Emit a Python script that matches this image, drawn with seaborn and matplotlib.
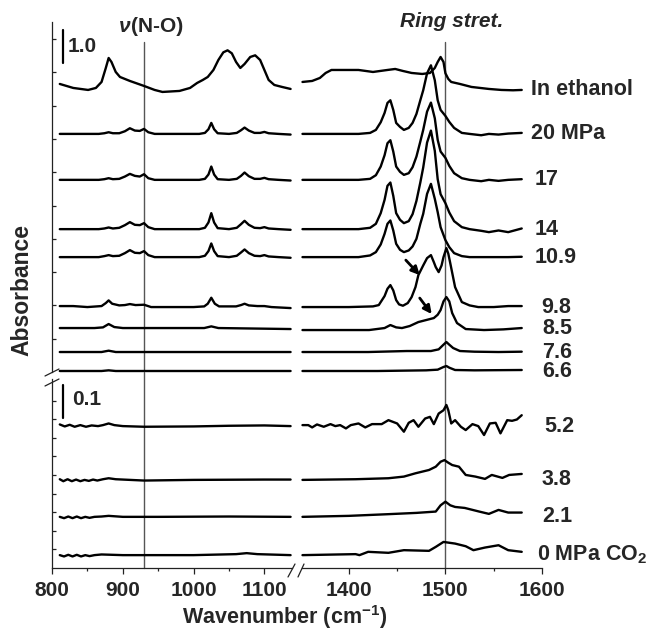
import numpy as np
import pandas as pd
import matplotlib
matplotlib.use("Agg")
import matplotlib.pyplot as plt
from matplotlib.lines import Line2D
import seaborn as sns

# ---------------- data ----------------
names_upper = ["In ethanol", "20 MPa", "17", "14", "10.9", "9.8", "8.5", "7.6", "6.6"]
names_lower = ["5.2", "3.8", "2.1", "0 MPa CO$_\\mathbf{2}$"]

# baselines of the stacked traces (absorbance units of each panel)
offsets_upper = [8.47, 7.15, 5.77, 4.29, 3.45, 1.95, 1.32, 0.60, 0.03]
offsets_lower = [0.430, 0.267, 0.155, 0.039]

# --- In ethanol
eth_l_wn = [811, 830, 851, 862, 870, 876, 880, 884, 890, 896, 910, 930, 945, 956, 980, 995, 1005, 1013,
            1020, 1028, 1035, 1042, 1048, 1054, 1060, 1066, 1072, 1080, 1087, 1094, 1100, 1106, 1114, 1125, 1137]
eth_l_a = [0.18, 0.06, 0, 0.06, 0.24, 0.66, 0.96, 0.84, 0.54, 0.39, 0.27, 0.12, 0, -0.06, -0.03, 0.06, 0.21, 0.30,
           0.39, 0.60, 0.90, 1.13, 1.19, 1.10, 0.84, 0.66, 0.78, 0.99, 1.04, 0.90, 0.60, 0.30, 0.15, 0.09, 0.03]
eth_r_wn = [1352, 1362, 1370, 1376, 1382, 1395, 1410, 1425, 1440, 1448, 1456, 1465, 1476, 1484, 1489, 1492,
            1495, 1498, 1500, 1503, 1506, 1515, 1527, 1545, 1558, 1570, 1579]
eth_r_a = [0.24, 0.27, 0.36, 0.51, 0.6, 0.6, 0.6, 0.54, 0.6, 0.63, 0.57, 0.51, 0.48, 0.51, 0.66, 0.84,
           0.99, 0.84, 0.5, 0.33, 0.24, 0.18, 0.09, 0.03, 0.0, -0.01, 0.0]

# --- supercritical traces 20, 17, 14, 10.9 MPa (shared wavenumber grids)
wn_l4 = [811, 840, 866, 874, 880, 886, 895, 903, 910, 917, 924, 930, 936, 945, 980, 1008, 1016, 1021, 1025,
         1029, 1034, 1050, 1061, 1067, 1072, 1078, 1086, 1094, 1100, 1106, 1120, 1137]
a20_l = [0, 0, 0, 0.02, 0.05, 0.02, 0.02, 0.08, 0.17, 0.1, 0.09, 0.15, 0.05, 0, 0, 0, 0.03, 0.14, 0.33,
         0.14, 0.02, 0, 0.03, 0.11, 0.19, 0.1, 0.03, 0.03, 0.06, 0.02, 0, -0.02]
a17_l = [0, 0, 0, 0.02, 0.05, 0.02, 0.03, 0.1, 0.18, 0.12, 0.1, 0.17, 0.05, 0, 0, 0, 0.03, 0.16, 0.4,
         0.16, 0.02, 0, 0.03, 0.12, 0.22, 0.11, 0.03, 0.03, 0.06, 0.02, 0, -0.02]
a14_l = [0, 0, 0, 0.02, 0.05, 0.02, 0.04, 0.12, 0.21, 0.13, 0.12, 0.18, 0.06, 0, 0, 0, 0.04, 0.2, 0.48,
         0.2, 0.03, 0, 0.04, 0.15, 0.25, 0.13, 0.04, 0.03, 0.06, 0.02, 0, -0.02]
a109_l = [0, 0, 0, 0.03, 0.06, 0.03, 0.04, 0.12, 0.21, 0.13, 0.12, 0.18, 0.06, 0, 0, 0, 0.04, 0.18, 0.41,
          0.18, 0.03, 0, 0.04, 0.14, 0.23, 0.12, 0.04, 0.03, 0.06, 0.02, 0, -0.02]

wn_r4 = [1352, 1380, 1410, 1422, 1428, 1433, 1437, 1440, 1443, 1446, 1449, 1453, 1457, 1462, 1466, 1470, 1474,
         1477, 1481, 1485, 1489, 1492, 1495, 1500, 1504, 1509, 1517, 1525, 1537, 1545, 1555, 1565, 1579]
a20_r = [0, 0, 0, 0.03, 0.12, 0.35, 0.63, 0.93, 1.01, 0.72, 0.33, 0.21, 0.12, 0.18, 0.33, 0.6, 1.01,
         1.31, 1.82, 2.06, 1.61, 1.01, 0.72, 0.54, 0.36, 0.18, 0.03, 0, -0.04, 0, -0.02, 0.01, 0.03]
a17_r = [0, 0, 0, 0.03, 0.14, 0.4, 0.74, 1.1, 1.19, 0.85, 0.4, 0.24, 0.15, 0.2, 0.38, 0.7, 1.15,
         1.5, 2.05, 2.32, 1.85, 1.2, 0.85, 0.66, 0.42, 0.2, 0.05, 0, -0.04, 0, -0.03, 0.0, 0.02]
a14_r = [0, 0, 0, 0.04, 0.16, 0.48, 0.88, 1.3, 1.4, 1.0, 0.48, 0.28, 0.18, 0.24, 0.45, 0.85, 1.4,
         1.85, 2.6, 2.96, 2.35, 1.5, 1.05, 0.78, 0.5, 0.24, 0.06, 0, -0.05, -0.09, -0.04, -0.09, 0.02]
a109_r = [0, 0, 0, 0.05, 0.15, 0.38, 0.7, 1.0, 1.1, 0.8, 0.4, 0.22, 0.15, 0.2, 0.32, 0.55, 1.0,
          1.3, 1.9, 2.2, 1.75, 1.35, 0.9, 0.51, 0.3, 0.12, 0.03, 0, 0, 0, 0, 0, 0.01]

# --- 9.8 MPa
w98_l = [811, 830, 850, 870, 876, 880, 885, 895, 903, 910, 918, 930, 940, 1000, 1015, 1020, 1025, 1030,
         1036, 1060, 1067, 1072, 1078, 1090, 1100, 1110, 1137]
a98_l = [0.03, 0.03, 0.0, 0.03, 0.12, 0.2, 0.1, 0.05, 0.06, 0.09, 0.06, 0.07, 0.0, 0.0, 0.02, 0.1, 0.28, 0.1,
         0.02, 0.02, 0.06, 0.1, 0.05, 0.03, 0.03, 0.0, -0.03]
w98_r = [1352, 1400, 1425, 1431, 1437, 1440, 1443, 1446, 1449, 1452, 1456, 1461, 1465, 1469, 1472, 1477,
         1481, 1485, 1488, 1490, 1493, 1496, 1498, 1501, 1503, 1505, 1510, 1517, 1525, 1534, 1550, 1565, 1579]
a98_r = [0, 0, 0.02, 0.06, 0.33, 0.55, 0.66, 0.5, 0.21, 0.08, 0.04, 0.12, 0.3, 0.6, 0.96, 1.25,
         1.47, 1.56, 1.35, 1.2, 1.05, 1.25, 1.5, 1.77, 1.6, 1.32, 0.6, 0.15, 0.05, 0, 0, 0.03, 0.03]

# --- 8.5, 7.6, 6.6 MPa
w85_l = [811, 860, 872, 880, 888, 900, 1015, 1025, 1035, 1137]
a85_l = [0, 0, 0.02, 0.12, 0.03, 0, 0, 0.05, 0, -0.03]
w85_r = [1352, 1421, 1437, 1443, 1449, 1455, 1463, 1472, 1480, 1488, 1492, 1495, 1498, 1501, 1504, 1507,
         1512, 1521, 1540, 1560, 1579]
a85_r = [-0.06, -0.06, 0.0, 0.09, 0.02, 0.0, 0.06, 0.18, 0.24, 0.3, 0.4, 0.54, 0.8, 0.93, 0.8, 0.45,
         0.15, -0.03, -0.06, -0.04, 0.0]
w76_l = [811, 870, 880, 890, 1137]
a76_l = [0, 0, 0.04, 0, 0]
w76_r = [1352, 1420, 1460, 1485, 1493, 1498, 1501, 1504, 1508, 1515, 1530, 1555, 1579]
a76_r = [0, 0, 0.03, 0.03, 0.08, 0.22, 0.3, 0.22, 0.12, 0.03, 0.01, 0, 0.01]
w66_l = [811, 870, 880, 890, 1137]
a66_l = [0, 0, 0.02, 0, 0]
w66_r = [1352, 1430, 1480, 1492, 1498, 1501, 1504, 1510, 1530, 1579]
a66_r = [0, 0, 0.02, 0.04, 0.12, 0.15, 0.1, 0.03, 0.02, 0.03]

# --- lower panel: 5.2, 3.8, 2.1, 0 MPa
w52_l = [811, 818, 825, 832, 840, 848, 856, 865, 872, 880, 888, 900, 930, 1000, 1050, 1100, 1137]
a52_l = [0.005, -0.001, 0.004, -0.002, 0.003, -0.002, 0.002, 0.0, 0.003, 0.008, 0.003, 0.0, -0.002, -0.001,
         0.001, 0.002, 0.0]
w52_r = [1352, 1358, 1362, 1367, 1374, 1381, 1386, 1391, 1397, 1402, 1410, 1417, 1424, 1434, 1441, 1450,
         1457, 1462, 1467, 1472, 1479, 1484, 1488, 1493, 1498, 1501, 1503, 1506, 1510, 1516, 1521, 1528,
         1534, 1540, 1546, 1552, 1557, 1564, 1569, 1574, 1579]
a52_r = [0.003, 0.003, -0.004, 0.005, -0.002, 0.006, 0.0, 0.003, -0.007, 0.003, 0.008, -0.004, 0.006, 0.006,
         0.018, 0.008, -0.017, 0.01, 0.018, -0.002, 0.023, 0.028, 0.006, 0.038, 0.048, 0.064, 0.048, 0.008,
         0.018, -0.002, -0.012, 0.006, 0.0, -0.027, 0.008, 0.01, -0.022, 0.018, 0.016, 0.02, 0.033]
w38_l = [811, 816, 822, 828, 834, 840, 846, 852, 858, 864, 872, 880, 890, 930, 1000, 1100, 1137]
a38_l = [0.002, -0.004, 0.002, -0.004, 0.001, -0.004, 0.0, -0.003, 0.001, -0.002, 0.002, 0.005, 0.002,
         -0.002, 0.0, 0.001, 0.001]
w38_r = [1352, 1407, 1441, 1457, 1469, 1483, 1490, 1495, 1499, 1503, 1507, 1514, 1521, 1531, 1541, 1548,
         1559, 1566, 1579]
a38_r = [0, 0.002, 0.005, 0.01, 0.02, 0.03, 0.04, 0.055, 0.06, 0.052, 0.045, 0.04, 0.015, 0.01, 0.003,
         0.015, 0.006, 0.015, 0.018]
w21_l = [811, 817, 823, 829, 835, 841, 847, 853, 860, 870, 880, 900, 950, 1050, 1137]
a21_l = [0.0, -0.004, 0.001, -0.004, 0.001, -0.004, 0.0, -0.003, 0.0, 0.001, 0.003, 0.0, 0.0, 0.001, 0.0]
w21_r = [1352, 1400, 1440, 1470, 1490, 1495, 1500, 1505, 1510, 1520, 1535, 1545, 1555, 1565, 1579]
a21_r = [0, 0.003, 0.008, 0.012, 0.016, 0.035, 0.046, 0.035, 0.03, 0.027, 0.016, 0.009, 0.021, 0.013, 0.013]
w0_l = [811, 817, 823, 829, 835, 841, 847, 853, 860, 870, 900, 1000, 1060, 1075, 1090, 1137]
a0_l = [0.0, -0.004, 0.001, -0.004, 0.001, -0.004, 0.0, -0.003, 0.0, 0.002, 0.0, 0.0, 0.003, 0.006, 0.003, 0.0]
w0_r = [1352, 1407, 1411, 1420, 1441, 1457, 1483, 1490, 1498, 1510, 1521, 1529, 1541, 1555, 1565, 1579]
a0_r = [0, 0.003, 0.0, 0.01, 0.007, 0.015, 0.013, 0.025, 0.04, 0.035, 0.027, 0.015, 0.023, 0.03, 0.015, 0.01]

# reference lines and x ticks
ref_lines = [930, 1500]
xticks_left = [800, 900, 1000, 1100]
xticks_right = [1400, 1500, 1600]
# annotation arrows (tail, head) in upper-right panel data units
arrows = [((1459, 3.36), (1473.4, 2.91)), ((1473.4, 2.22), (1485.8, 1.74))]

# ---------------- assemble tidy table ----------------
upper_left = [(eth_l_wn, eth_l_a), (wn_l4, a20_l), (wn_l4, a17_l), (wn_l4, a14_l), (wn_l4, a109_l),
              (w98_l, a98_l), (w85_l, a85_l), (w76_l, a76_l), (w66_l, a66_l)]
upper_right = [(eth_r_wn, eth_r_a), (wn_r4, a20_r), (wn_r4, a17_r), (wn_r4, a14_r), (wn_r4, a109_r),
               (w98_r, a98_r), (w85_r, a85_r), (w76_r, a76_r), (w66_r, a66_r)]
lower_left = [(w52_l, a52_l), (w38_l, a38_l), (w21_l, a21_l), (w0_l, a0_l)]
lower_right = [(w52_r, a52_r), (w38_r, a38_r), (w21_r, a21_r), (w0_r, a0_r)]

frames = []
for panel, names, offs, segs in [("upper", names_upper, offsets_upper, {"L": upper_left, "R": upper_right}),
                                 ("lower", names_lower, offsets_lower, {"L": lower_left, "R": lower_right})]:
    for seg, traces in segs.items():
        for name, off, (wn, a) in zip(names, offs, traces):
            frames.append(pd.DataFrame({"wn": wn, "A": np.asarray(a, float) + off,
                                        "trace": name, "panel": panel, "seg": seg}))
df = pd.concat(frames, ignore_index=True)

# ---------------- styling ----------------
sns.set_theme(style="white")
plt.rcParams["font.family"] = ["Liberation Sans", "DejaVu Sans"]
plt.rcParams["font.weight"] = "bold"
plt.rcParams["mathtext.fontset"] = "custom"
plt.rcParams["mathtext.rm"] = "Liberation Sans:bold"
plt.rcParams["mathtext.bf"] = "Liberation Sans:bold"
plt.rcParams["mathtext.it"] = "Liberation Sans:bold:italic"

W, H = 654, 633
fig = plt.figure(figsize=(W / 100, H / 100), dpi=100)
fig.patch.set_facecolor("white")


def fx(x):
    return x / W


def fy(y):
    return 1 - y / H


# pixel layout
xl0, xl1, xr0, xr1 = 52, 292, 302, 542
yu0, yu1, yl0, yl1 = 22, 372, 379, 568
ax_ul = fig.add_axes([fx(xl0), fy(yu1), (xl1 - xl0) / W, (yu1 - yu0) / H])
ax_ur = fig.add_axes([fx(xr0), fy(yu1), (xr1 - xr0) / W, (yu1 - yu0) / H])
ax_ll = fig.add_axes([fx(xl0), fy(yl1), (xl1 - xl0) / W, (yl1 - yl0) / H])
ax_lr = fig.add_axes([fx(xr0), fy(yl1), (xr1 - xr0) / W, (yl1 - yl0) / H])

up_px_per_unit = 33.3
lo_px_per_unit = 330.0
up_top = (yu1 - yu0) / up_px_per_unit
lo_top = (yl1 - yl0) / lo_px_per_unit

axes = {("upper", "L"): ax_ul, ("upper", "R"): ax_ur, ("lower", "L"): ax_ll, ("lower", "R"): ax_lr}
for (panel, seg), ax in axes.items():
    sub = df[(df.panel == panel) & (df.seg == seg)]
    sns.lineplot(data=sub, x="wn", y="A", units="trace", estimator=None, sort=False,
                 color="black", linewidth=1.7, ax=ax, legend=False, zorder=3)
    for ln in ax.lines:
        ln.set_clip_on(False)
        ln.set_solid_joinstyle("round")
    ax.set_xlabel("")
    ax.set_ylabel("")
    ax.set_facecolor("none")
    ax.set_xlim((800, 1139) if seg == "L" else (1351.5, 1600))
    ax.set_ylim(0, up_top if panel == "upper" else lo_top)
    for s in ax.spines.values():
        s.set_visible(False)
        s.set_color("#222222")
        s.set_linewidth(0.9)

# spines
ax_ul.spines["left"].set_visible(True)
ax_ll.spines["left"].set_visible(True)
ax_ll.spines["bottom"].set_visible(True)
ax_lr.spines["bottom"].set_visible(True)

# ticks
ax_ul.set_xticks([])
ax_ur.set_xticks([])
ax_ur.set_yticks([])
ax_lr.set_yticks([])
ax_ul.set_yticks(np.arange(1, 11))
ax_ul.set_yticklabels([])
ax_ll.set_yticks(np.arange(1, 10) * 18.6 / lo_px_per_unit)
ax_ll.set_yticklabels([])
for ax in (ax_ul, ax_ll):
    ax.tick_params(axis="y", direction="in", length=3, width=0.9, color="#222222", left=True)
ax_ll.set_xticks(xticks_left)
ax_ll.set_xticks([850, 950, 1050], minor=True)
ax_lr.set_xticks(xticks_right)
ax_lr.set_xticks([1450, 1550], minor=True)
for ax in (ax_ll, ax_lr):
    ax.set_xticklabels([str(t) for t in ax.get_xticks()], fontsize=15, fontweight="bold")
    ax.tick_params(axis="x", which="major", direction="out", length=4, width=0.9, pad=5,
                   color="#222222", bottom=True)
    ax.tick_params(axis="x", which="minor", direction="out", length=2.5, width=0.9,
                   color="#222222", bottom=True)

# reference vertical lines
vtop = (yu1 - 42) / (yu1 - yu0)
bridge = 1 + (yl0 - yu1) / (yl1 - yl0)
for ax_u, ax_l, xv in [(ax_ul, ax_ll, ref_lines[0]), (ax_ur, ax_lr, ref_lines[1])]:
    ax_u.axvline(xv, ymin=0, ymax=vtop, color="#555555", lw=1.0, zorder=1)
    ax_l.axvline(xv, ymin=0, ymax=bridge, color="#555555", lw=1.0, zorder=1, clip_on=False)

# break marks
for (x0, y0, x1, y1) in [(45, 376, 59, 369), (45, 386, 59, 379)]:
    fig.add_artist(Line2D([fx(x0), fx(x1)], [fy(y0), fy(y1)], color="#222222", lw=0.9))
for (x0, y0, x1, y1) in [(288, 577, 295, 564), (298, 577, 304, 564)]:
    fig.add_artist(Line2D([fx(x0), fx(x1)], [fy(y0), fy(y1)], color="#222222", lw=0.9))

# scale bars
ax_ul.plot([815.5, 815.5], [9.28, 10.28], color="black", lw=1.6, clip_on=False)
ax_ul.text(822, 9.78, "1.0", fontsize=15, fontweight="bold", va="center", ha="left")
ax_ll.plot([815.5, 815.5], [0.456, 0.556], color="black", lw=1.6, clip_on=False)
ax_ll.text(828, 0.51, "0.1", fontsize=15, fontweight="bold", va="center", ha="left")

# arrows
for (tail, head) in arrows:
    ax_ur.annotate("", xy=head, xytext=tail,
                   arrowprops=dict(arrowstyle="-|>", color="black", lw=2.0, mutation_scale=12,
                                   shrinkA=0, shrinkB=0))

# trace labels at the right
label_x_upper = [1589, 1589, 1592, 1592, 1592, 1599, 1600, 1600, 1600]
label_x_lower = [1602, 1600, 1600, 1594.5]
for name, off, lx in zip(names_upper, offsets_upper, label_x_upper):
    ax_ur.text(lx, off, name, fontsize=15.5, fontweight="bold", va="center", ha="left", clip_on=False)
for name, off, lx in zip(names_lower, offsets_lower, label_x_lower):
    ax_lr.text(lx, off, name, fontsize=15.5, fontweight="bold", va="center", ha="left", clip_on=False)

# headers and axis titles
fig.text(fx(131), fy(31.5), "(N-O)", fontsize=15, fontweight="bold", ha="left", va="baseline")
fig.text(fx(131), fy(31.5), "ν", fontsize=15, fontweight="bold", style="italic", ha="right", va="baseline")
fig.text(fx(452), fy(27), "Ring stret.", fontsize=15, fontweight="bold", style="italic",
         ha="center", va="baseline")
fig.text(fx(285), fy(624), "Wavenumber (cm$^{\\mathbf{-1}}$)", fontsize=15.5, fontweight="bold",
         ha="center", va="baseline")
fig.text(fx(22), fy(290), "Absorbance", fontsize=16.5, fontweight="bold", rotation=90,
         ha="center", va="center")

fig.savefig("out.png", dpi=100, facecolor="white")
